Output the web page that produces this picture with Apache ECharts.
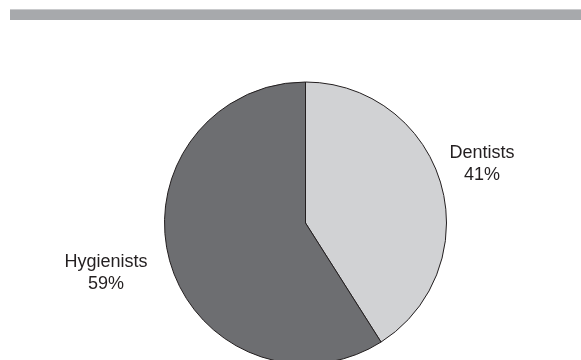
<!DOCTYPE html>
<html>
<head>
<meta charset="utf-8">
<script src="https://cdn.jsdelivr.net/npm/echarts@6/dist/echarts.min.js"></script>
<style>html,body{margin:0;padding:0;background:#fff;}#c{width:581px;height:360px;}</style>
</head>
<body>
<div id="c"></div>
<script>
const categories = ['Dentists', 'Hygienists'];
const values = [41, 59];
const colors = ['#d1d2d4', '#6d6e71'];
const labelPos = [[482, 164], [106, 273]];

const chart = echarts.init(document.getElementById('c'), null, {renderer: 'canvas'});
chart.setOption({
  animation: false,
  backgroundColor: '#ffffff',
  graphic: [
    {type: 'rect', shape: {x: 10, y: 9, width: 571, height: 11}, style: {fill: '#a7a9ac'}},
    {type: 'rect', shape: {x: 10, y: 9, width: 571, height: 1}, style: {fill: '#c9cacc'}}
  ],
  series: [{
    type: 'pie',
    center: [305.5, 223],
    radius: 141,
    startAngle: 90,
    clockwise: true,
    silent: true,
    data: categories.map((c, i) => ({name: c, value: values[i], itemStyle: {color: colors[i]}})),
    itemStyle: {borderColor: '#231f20', borderWidth: 1},
    label: {
      show: true,
      position: 'outside',
      formatter: '{b}\n{d}%',
      fontFamily: 'Liberation Sans, Arial, sans-serif',
      fontSize: 18,
      lineHeight: 22,
      color: '#231f20',
      align: 'center'
    },
    labelLine: {show: false},
    labelLayout: function (p) {
      return {x: labelPos[p.dataIndex][0], y: labelPos[p.dataIndex][1], align: 'center', verticalAlign: 'middle'};
    }
  }]
});
</script>
</body>
</html>
